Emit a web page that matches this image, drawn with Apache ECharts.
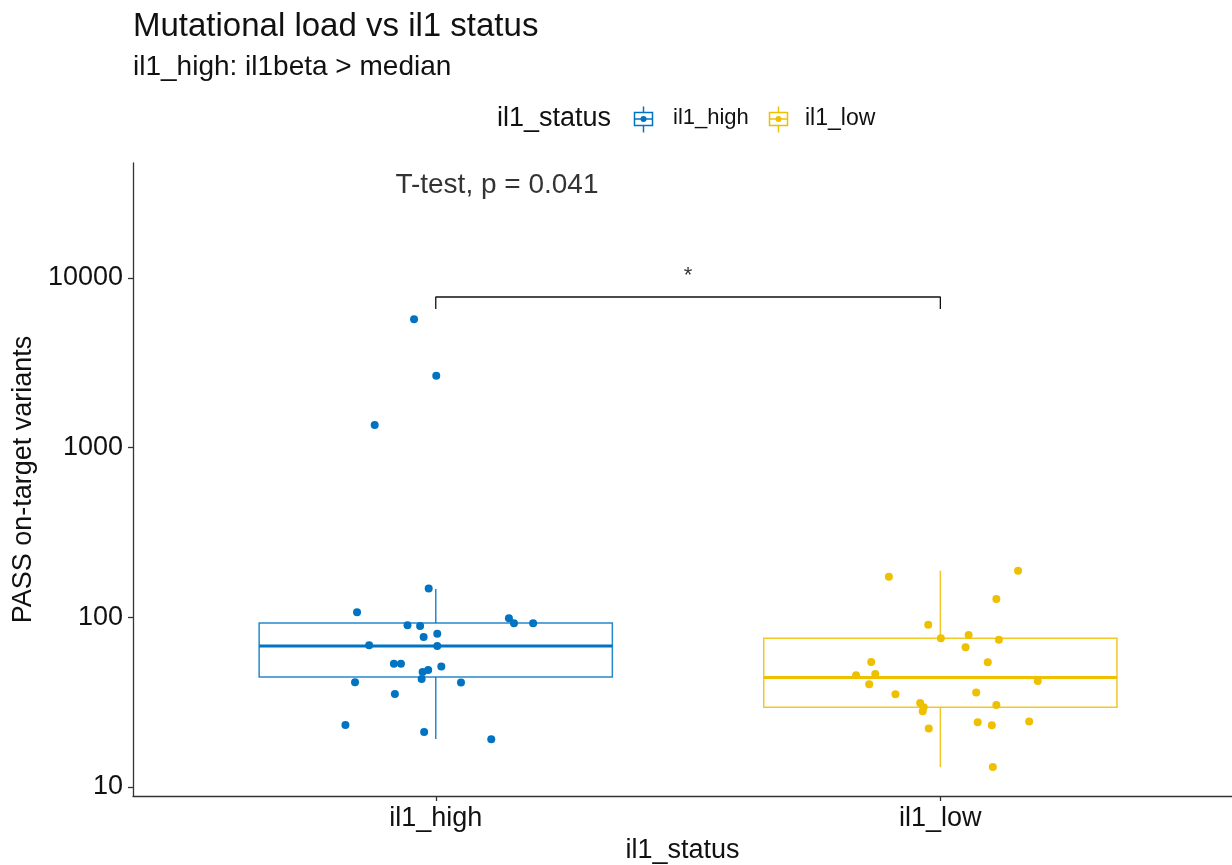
<!DOCTYPE html>
<html>
<head>
<meta charset="utf-8">
<script src="https://cdn.jsdelivr.net/npm/echarts@6/dist/echarts.min.js"></script>
<style>
html,body{margin:0;padding:0;background:#fff;}
#chart{width:1232px;height:865px;}
</style>
</head>
<body>
<div id="chart"></div>
<script>
// ---- data ----
const categories = ['il1_high', 'il1_low'];
const yTicks = [10, 100, 1000, 10000];
// box stats: [lower whisker, Q1, median, Q3, upper whisker]
const boxHigh = [19.2, 44.5, 67.8, 92.5, 147];
const boxLow = [13.1, 29.5, 44.1, 75.2, 188];
// jittered points: values and horizontal jitter (category units)
const highValues = [5700, 2650, 1360, 148, 107, 98.6, 92.2, 92.2, 89.7, 88.9, 80.1, 76.5, 68.4, 67.7,
  53.3, 53.3, 51.2, 48.9, 47.6, 43.3, 41.4, 41.3, 35.3, 23.2, 21.1, 19.1];
const highJitter = [-0.043, 0.001, -0.121, -0.014, -0.156, 0.145, 0.155, 0.193, -0.056, -0.031, 0.003, -0.024, -0.132, 0.003,
  -0.083, -0.069, 0.011, -0.015, -0.026, -0.028, -0.160, 0.050, -0.081, -0.179, -0.023, 0.110];
const lowValues = [173.5, 188, 128, 90.4, 75.2, 78.6, 73.8, 66.6, 54.5, 54.4, 45.5, 46.3, 40.3, 42.1,
  35.2, 36.1, 31.3, 30.4, 29.5, 27.9, 24.1, 23.1, 24.3, 22.1, 13.1];
const lowJitter = [-0.102, 0.154, 0.111, -0.024, 0.001, 0.056, 0.116, 0.050, -0.137, 0.094, -0.167, -0.129, -0.141, 0.193,
  -0.089, 0.071, -0.040, 0.111, -0.033, -0.035, 0.074, 0.102, 0.176, -0.023, 0.104];
const bracketLow = 6560, bracketHigh = 7710;
const starValue = 10300;
const pText = 'T-test, p = 0.041';
const pValueY = 35000;

const colors = ['#0073C2', '#EFC000'];
const FONT = '"Liberation Sans", Arial, sans-serif';

const chart = echarts.init(document.getElementById('chart'), null, {renderer: 'canvas'});

const boxData = [[1].concat(boxHigh), [2].concat(boxLow)];

function renderBox(params, api) {
  const x = api.value(0);
  const lo = api.value(1), q1 = api.value(2), med = api.value(3), q3 = api.value(4), hi = api.value(5);
  const hw = 0.35;
  const c = colors[params.dataIndex];
  const pL1 = api.coord([x - hw, q3]);
  const pR1 = api.coord([x + hw, q1]);
  const pMedL = api.coord([x - hw, med]);
  const pMedR = api.coord([x + hw, med]);
  const pHi = api.coord([x, hi]);
  const pQ3 = api.coord([x, q3]);
  const pQ1 = api.coord([x, q1]);
  const pLo = api.coord([x, lo]);
  const st = {stroke: c, lineWidth: 1.5, fill: null, opacity: 0.85};
  return {
    type: 'group',
    children: [
      {type: 'line', shape: {x1: pHi[0], y1: pHi[1], x2: pQ3[0], y2: pQ3[1]}, style: st},
      {type: 'line', shape: {x1: pQ1[0], y1: pQ1[1], x2: pLo[0], y2: pLo[1]}, style: st},
      {type: 'rect', shape: {x: pL1[0], y: pL1[1], width: pR1[0] - pL1[0], height: pR1[1] - pL1[1]},
        style: {stroke: c, lineWidth: 1.5, fill: '#fff', opacity: 0.85}},
      {type: 'line', shape: {x1: pMedL[0], y1: pMedL[1], x2: pMedR[0], y2: pMedR[1]},
        style: {stroke: c, lineWidth: 3}}
    ]
  };
}

const option = {
  animation: false,
  backgroundColor: '#fff',
  textStyle: {fontFamily: FONT},
  grid: {left: 133, right: 0, top: 163, bottom: 69, containLabel: false, outerBoundsMode: 'none'},
  xAxis: {
    type: 'value', min: 0.4, max: 2.578,
    name: 'il1_status', nameLocation: 'middle', nameGap: 41,
    nameTextStyle: {fontSize: 27, color: '#111', fontFamily: FONT},
    axisLine: {show: true, lineStyle: {color: '#333', width: 1.3}},
    axisTick: {show: true, length: 5, lineStyle: {color: '#333', width: 1.3}, customValues: [1, 2]},
    axisLabel: {show: true, customValues: [1, 2], fontSize: 27, color: '#111', margin: 9,
      formatter: v => categories[Math.round(v) - 1] || ''},
    splitLine: {show: false}
  },
  yAxis: {
    type: 'log', logBase: 10, min: 8.85, max: 47500,
    name: 'PASS on-target variants', nameLocation: 'middle', nameGap: 92,
    nameTextStyle: {fontSize: 27, color: '#111', fontFamily: FONT},
    axisLine: {show: true, lineStyle: {color: '#333', width: 1.3}},
    axisTick: {show: true, length: 5, lineStyle: {color: '#333', width: 1.3}, customValues: yTicks},
    axisLabel: {show: true, customValues: yTicks, fontSize: 27, color: '#111', margin: 10,
      formatter: v => String(Math.round(v))},
    splitLine: {show: false}
  },
  series: [
    {
      type: 'custom', renderItem: renderBox, data: boxData, z: 2,
      encode: {x: 0, y: [1, 2, 3, 4, 5]}
    },
    {
      type: 'scatter', name: 'il1_high', z: 5,
      data: highValues.map((v, i) => [1 + highJitter[i], v]),
      symbolSize: 8, itemStyle: {color: colors[0], opacity: 1}
    },
    {
      type: 'scatter', name: 'il1_low', z: 5,
      data: lowValues.map((v, i) => [2 + lowJitter[i], v]),
      symbolSize: 8, itemStyle: {color: colors[1], opacity: 1}
    },
    {
      type: 'line', z: 6, symbol: 'none', silent: true,
      data: [[1, bracketLow], [1, bracketHigh], [2, bracketHigh], [2, bracketLow]],
      lineStyle: {color: '#111', width: 1.3}
    },
    {
      type: 'scatter', z: 6, symbolSize: 0, silent: true,
      data: [[1.5, starValue]],
      label: {show: true, position: 'inside', formatter: '*', fontSize: 22, color: '#000', fontFamily: FONT}
    },
    {
      type: 'scatter', z: 6, symbolSize: 0, silent: true,
      data: [[0.92, pValueY]],
      label: {show: true, position: 'right', distance: 0, formatter: pText, fontSize: 28, color: '#000', fontFamily: FONT}
    }
  ],
  graphic: [
    {type: 'text', left: 133, top: 10, style: {text: 'Mutational load vs il1 status', font: '33px ' + FONT, fill: '#111'}},
    {type: 'text', left: 133, top: 53, style: {text: 'il1_high: il1beta > median', font: '28px ' + FONT, fill: '#111'}},
    {type: 'text', left: 497, top: 105, style: {text: 'il1_status', font: '27px ' + FONT, fill: '#111'}},
    {type: 'group', left: 632, top: 104, children: [
      {type: 'line', shape: {x1: 9, y1: 0, x2: 9, y2: 26}, style: {stroke: colors[0], lineWidth: 1.5}},
      {type: 'rect', shape: {x: 0, y: 6, width: 18, height: 13}, style: {stroke: colors[0], lineWidth: 1.5, fill: '#fff'}},
      {type: 'line', shape: {x1: 0, y1: 12.5, x2: 18, y2: 12.5}, style: {stroke: colors[0], lineWidth: 1.5}},
      {type: 'circle', shape: {cx: 9, cy: 12.5, r: 3}, style: {fill: colors[0]}}
    ]},
    {type: 'text', left: 673, top: 107, style: {text: 'il1_high', font: '22px ' + FONT, fill: '#111'}},
    {type: 'group', left: 767, top: 104, children: [
      {type: 'line', shape: {x1: 9, y1: 0, x2: 9, y2: 26}, style: {stroke: colors[1], lineWidth: 1.5}},
      {type: 'rect', shape: {x: 0, y: 6, width: 18, height: 13}, style: {stroke: colors[1], lineWidth: 1.5, fill: '#fff'}},
      {type: 'line', shape: {x1: 0, y1: 12.5, x2: 18, y2: 12.5}, style: {stroke: colors[1], lineWidth: 1.5}},
      {type: 'circle', shape: {cx: 9, cy: 12.5, r: 3}, style: {fill: colors[1]}}
    ]},
    {type: 'text', left: 805, top: 107, style: {text: 'il1_low', font: '23px ' + FONT, fill: '#111'}}
  ]
};
chart.setOption(option);
</script>
</body>
</html>
